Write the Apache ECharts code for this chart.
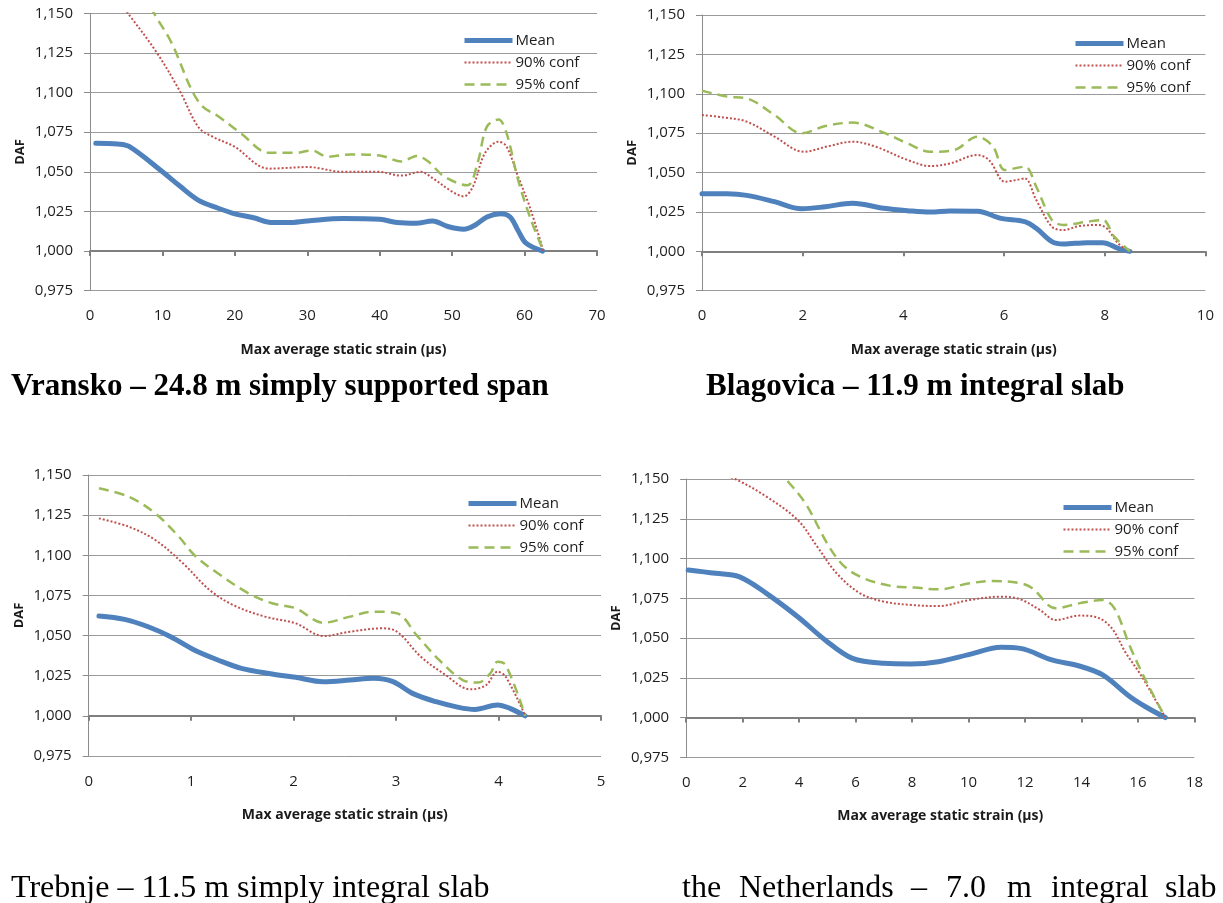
<!DOCTYPE html>
<html>
<head>
<meta charset="utf-8">
<script src="https://cdn.jsdelivr.net/npm/echarts@6/dist/echarts.min.js"></script>
<style>
html,body{margin:0;padding:0;background:#fff;}
#c{width:1223px;height:903px;}
</style>
</head>
<body>
<div id="c"></div>
<script>
// ---------- DATA ----------
const seriesNames = ['Mean', '90% conf', '95% conf'];
const yTicks = [0.975, 1.150, 0.025]; // min, max, interval

// Vransko
const vrMeanX = [0.8, 3.8, 5.4, 10, 12.4, 15, 17.7, 20, 22.6, 25, 27.4, 30, 35, 40, 42.4, 45, 47.3, 49.4, 51.6, 53.2, 54.8, 56.7, 58, 59.1, 60.2, 62.5];
const vrMeanY = [1.068, 1.0675, 1.066, 1.050, 1.041, 1.032, 1.027, 1.0235, 1.021, 1.018, 1.018, 1.019, 1.0205, 1.020, 1.018, 1.0175, 1.019, 1.0155, 1.0138, 1.0165, 1.0215, 1.0235, 1.0215, 1.013, 1.005, 1.000];
const vr90X = [1, 5.4, 9.1, 12.4, 15, 17, 19.9, 24.7, 30.1, 34.9, 39.8, 43, 45.7, 47.3, 50, 51.6, 52.9, 54.5, 56.4, 57.5, 59.1, 60.7, 62.6];
const vr90Y = [1.175, 1.149, 1.126, 1.101, 1.078, 1.072, 1.066, 1.052, 1.053, 1.050, 1.050, 1.0476, 1.050, 1.046, 1.0375, 1.0345, 1.041, 1.0615, 1.069, 1.066, 1.047, 1.028, 1.000];
const vr95X = [5, 9.1, 11.3, 14.0, 15.6, 17.7, 20.9, 24.7, 28.5, 30.6, 32.8, 36.0, 40.3, 43, 45.1, 46.7, 48.9, 52.1, 53.5, 54.8, 56.4, 57.5, 59.1, 60.7, 62.6];
const vr95Y = [1.18, 1.148, 1.131, 1.102, 1.091, 1.085, 1.074, 1.062, 1.062, 1.0635, 1.0595, 1.061, 1.060, 1.0565, 1.060, 1.0565, 1.047, 1.0415, 1.0555, 1.0785, 1.083, 1.0745, 1.045, 1.022, 1.000];
const vrXTicks = [0, 70, 10];

// Blagovica
const blMeanX = [0, 0.5, 0.89, 1.44, 1.98, 2.45, 2.99, 3.61, 4.08, 4.54, 4.93, 5.47, 5.94, 6.41, 6.64, 6.95, 7.18, 7.65, 7.96, 8.27, 8.5];
const blMeanY = [1.0365, 1.0365, 1.0355, 1.0315, 1.027, 1.0283, 1.0305, 1.0273, 1.0258, 1.0249, 1.0256, 1.0254, 1.0209, 1.0188, 1.0146, 1.0061, 1.0046, 1.0055, 1.0055, 1.0019, 1.000];
const bl90X = [0, 0.43, 0.89, 1.44, 2.02, 2.52, 2.99, 3.45, 4.08, 4.54, 4.93, 5.47, 5.70, 6.02, 6.25, 6.41, 6.64, 6.95, 7.18, 7.49, 7.88, 8.04, 8.27, 8.5];
const bl90Y = [1.0865, 1.085, 1.0823, 1.0728, 1.0632, 1.0668, 1.0696, 1.0664, 1.058, 1.0541, 1.0558, 1.0611, 1.058, 1.0442, 1.0453, 1.0463, 1.0326, 1.0156, 1.0135, 1.016, 1.0167, 1.0146, 1.005, 1.000];
const bl95X = [0, 0.5, 0.89, 1.44, 1.98, 2.45, 2.99, 3.61, 4.08, 4.54, 5.01, 5.47, 5.78, 6.02, 6.41, 6.64, 6.95, 7.18, 7.65, 7.96, 8.19, 8.5];
const bl95Y = [1.102, 1.0982, 1.0971, 1.0865, 1.0749, 1.0795, 1.0817, 1.0753, 1.0685, 1.0632, 1.0643, 1.0728, 1.0664, 1.0516, 1.0537, 1.041, 1.0199, 1.0167, 1.0188, 1.0199, 1.0093, 1.000];
const blXTicks = [0, 10, 2];

// Trebnje
const trMeanX = [0.1, 0.35, 0.58, 0.8, 1.03, 1.26, 1.49, 1.79, 2.02, 2.29, 2.55, 2.78, 2.97, 3.16, 3.39, 3.61, 3.77, 3.99, 4.11, 4.26];
const trMeanY = [1.0622, 1.0601, 1.0555, 1.0493, 1.041, 1.0348, 1.0296, 1.0261, 1.024, 1.0213, 1.0223, 1.0234, 1.0213, 1.014, 1.0088, 1.0053, 1.004, 1.0068, 1.0047, 1.000];
const tr90X = [0.1, 0.39, 0.65, 0.92, 1.18, 1.41, 1.72, 2.02, 2.29, 2.55, 2.86, 3.01, 3.24, 3.46, 3.73, 3.88, 3.99, 4.07, 4.26];
const tr90Y = [1.123, 1.1178, 1.1095, 1.095, 1.0784, 1.069, 1.0618, 1.0576, 1.0497, 1.0524, 1.0545, 1.0524, 1.0369, 1.0265, 1.0165, 1.0192, 1.0275, 1.0244, 1.000];
const tr95X = [0.1, 0.39, 0.65, 0.88, 1.03, 1.26, 1.56, 1.79, 2.02, 2.29, 2.55, 2.78, 3.01, 3.2, 3.42, 3.65, 3.8, 3.92, 3.99, 4.07, 4.26];
const tr95Y = [1.1417, 1.1365, 1.1261, 1.1116, 1.1002, 1.0888, 1.0763, 1.0701, 1.067, 1.058, 1.0618, 1.0649, 1.0638, 1.0503, 1.0348, 1.0223, 1.0207, 1.0265, 1.0337, 1.0317, 1.000];
const trXTicks = [0, 5, 1];

// the Netherlands
const nlMeanX = [0.07, 1.04, 1.87, 2.84, 3.95, 4.92, 5.89, 7.0, 7.96, 8.93, 10.04, 11.15, 11.84, 12.95, 13.92, 14.75, 15.72, 16.27, 16.97];
const nlMeanY = [1.0928, 1.0907, 1.0886, 1.0781, 1.0634, 1.0488, 1.0372, 1.0341, 1.0337, 1.0351, 1.0397, 1.0442, 1.0435, 1.0362, 1.0324, 1.0268, 1.0131, 1.0068, 1.000];
const nl90X = [0, 1.73, 2.84, 3.95, 4.64, 5.33, 6.16, 7.0, 7.96, 8.93, 10.04, 11.15, 11.84, 12.53, 13.09, 13.92, 14.47, 15.03, 15.58, 16.14, 16.97];
const nl90Y = [1.162, 1.150, 1.1389, 1.1242, 1.1075, 1.0907, 1.0781, 1.0729, 1.0708, 1.0701, 1.0739, 1.076, 1.0743, 1.0676, 1.0613, 1.0641, 1.0634, 1.0571, 1.0404, 1.0257, 1.000];
const nl95X = [2.5, 3.53, 4.22, 5.06, 5.61, 6.3, 7.27, 8.1, 8.93, 10.04, 10.87, 11.84, 12.26, 13.09, 13.92, 14.75, 15.17, 15.72, 16.27, 16.97];
const nl95Y = [1.172, 1.150, 1.1347, 1.1075, 1.0949, 1.0875, 1.0827, 1.0817, 1.0806, 1.0844, 1.0859, 1.0844, 1.0813, 1.0687, 1.0718, 1.0739, 1.0687, 1.0446, 1.0236, 1.000];
const nlXTicks = [0, 18, 2];

const xTitle = 'Max average static strain (µs)';
const yTitle = 'DAF';

// ---------- LAYOUT ----------
const panels = [
  { grid: {left: 90, top: 13.3, width: 507, height: 277.4}, xt: vrXTicks,
    s: [[vrMeanX, vrMeanY], [vr90X, vr90Y], [vr95X, vr95Y]], legend: {left: 462, top: 33} },
  { grid: {left: 702, top: 15, width: 503.4, height: 275.7}, xt: blXTicks,
    s: [[blMeanX, blMeanY], [bl90X, bl90Y], [bl95X, bl95Y]], legend: {left: 1073, top: 36} },
  { grid: {left: 88.7, top: 475, width: 512.3, height: 281}, xt: trXTicks,
    s: [[trMeanX, trMeanY], [tr90X, tr90Y], [tr95X, tr95Y]], legend: {left: 466, top: 496} },
  { grid: {left: 686.2, top: 479, width: 508.2, height: 278.3}, xt: nlXTicks,
    s: [[nlMeanX, nlMeanY], [nl90X, nl90Y], [nl95X, nl95Y]], legend: {left: 1061, top: 500} }
];

const FONT = "'Open Sans', sans-serif";
const SERIF = "'Liberation Serif', 'Times New Roman', serif";
const lineStyles = [
  {color: '#4F81BD', width: 5, type: 'solid', cap: 'round'},
  {color: '#C0504D', width: 2, type: [2, 2]},
  {color: '#9BBB59', width: 2.5, type: [10, 6]}
];
const zip = (xs, ys) => xs.map((x, i) => [x, ys[i]]);
const fmt = v => v.toFixed(3).replace('.', ',');

const grids = [], xAxes = [], yAxes = [], series = [], legends = [];
panels.forEach((p, i) => {
  grids.push(Object.assign({outerBoundsMode: 'none', containLabel: false}, p.grid));
  const [xmin, xmax, xint] = p.xt;
  const [ymin, ymax, yint] = yTicks;
  xAxes.push({
    type: 'value', gridIndex: i, min: xmin, max: xmax, interval: xint, position: 'bottom',
    axisLine: {show: false}, axisTick: {show: false}, splitLine: {show: false},
    axisLabel: {color: '#1e1e1e', fontSize: 15, fontFamily: FONT, margin: 18},
    name: xTitle, nameLocation: 'middle', nameGap: 52,
    nameTextStyle: {fontSize: 14, fontWeight: 'bold', fontFamily: FONT, color: '#1a1a1a'}
  });
  const crossOffset = -(1.0 - ymin) / (ymax - ymin) * p.grid.height;
  xAxes.push({
    type: 'value', gridIndex: i, min: xmin, max: xmax, interval: xint, position: 'bottom',
    offset: crossOffset,
    axisLine: {show: true, lineStyle: {color: '#7f7f7f', width: 2}},
    axisTick: {show: true, length: 5, lineStyle: {color: '#7f7f7f', width: 2}},
    axisLabel: {show: false}, splitLine: {show: false}
  });
  yAxes.push({
    type: 'value', gridIndex: i, min: ymin, max: ymax, interval: yint,
    axisLine: {show: true, lineStyle: {color: '#8c8c8c', width: 1}},
    axisTick: {show: true, length: 6, lineStyle: {color: '#8c8c8c'}},
    splitLine: {show: true, lineStyle: {color: '#9a9a9a', width: 1}},
    axisLabel: {color: '#1e1e1e', fontSize: 15, fontFamily: FONT, margin: 17, formatter: fmt},
    name: yTitle, nameLocation: 'middle', nameGap: 63, nameRotate: 90,
    nameTextStyle: {fontSize: 13, fontWeight: 'bold', fontFamily: FONT, color: '#1a1a1a'}
  });
  p.s.forEach((d, k) => {
    series.push({
      name: seriesNames[k], type: 'line', xAxisIndex: 2 * i, yAxisIndex: i,
      data: zip(d[0], d[1]), symbol: 'none', smooth: 0.35, clip: true,
      lineStyle: lineStyles[k], itemStyle: {color: lineStyles[k].color},
      z: 3 + (k === 0 ? 0 : 1), animation: false
    });
  });
  legends.push({
    orient: 'vertical', left: p.legend.left, top: p.legend.top,
    data: seriesNames.map((n, k) => ({name: n, itemStyle: {opacity: 0}, lineStyle: Object.assign({}, lineStyles[k], {cap: 'butt'})})),
    itemWidth: 48, itemHeight: 14, itemGap: 7, selectedMode: false, padding: 0,
    itemStyle: {opacity: 0},
    textStyle: {fontSize: 15, fontFamily: FONT, color: '#1e1e1e', padding: [0, 0, 0, -2]}
  });
});

// captions
const capBold = 'bold 31px ' + SERIF;
const capReg = '32px ' + SERIF;
const nlWords = ['the', 'Netherlands', '–', '7.0', 'm', 'integral', 'slab'];
const nlWordX = [682, 739, 911, 946, 1007, 1051, 1165];
const graphic = [
  {type: 'text', left: 11, top: 371, style: {text: 'Vransko – 24.8 m simply supported span', font: capBold, fill: '#000'}},
  {type: 'text', left: 706, top: 371, style: {text: 'Blagovica – 11.9 m integral slab', font: capBold, fill: '#000'}},
  {type: 'text', left: 11, top: 873, style: {text: 'Trebnje – 11.5 m simply integral slab', font: capReg, fill: '#000'}}
];
nlWords.forEach((w, i) => graphic.push({type: 'text', left: nlWordX[i], top: 873, style: {text: w, font: capReg, fill: '#000'}}));

const chart = echarts.init(document.getElementById('c'), null, {renderer: 'canvas'});
chart.setOption({
  animation: false,
  backgroundColor: '#ffffff',
  grid: grids, xAxis: xAxes, yAxis: yAxes, series: series, legend: legends, graphic: graphic
});
</script>
</body>
</html>
